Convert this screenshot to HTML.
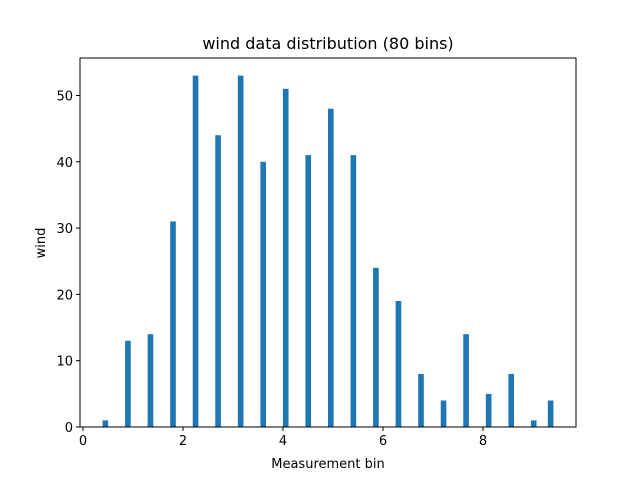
<!DOCTYPE html>
<html><head><meta charset="utf-8"><style>
body{margin:0;background:#fff}
svg text{font-family:"DejaVu Sans","Liberation Sans",sans-serif;fill:#000}
</style></head><body>
<svg id="c" width="640" height="480">
<rect width="640" height="480" fill="#fff"/>
<text x="328" y="49" font-size="16" text-anchor="middle">wind data distribution (80 bins)</text>
<text x="328" y="468" font-size="13" text-anchor="middle">Measurement bin</text>
<text x="45" y="243" font-size="13" text-anchor="middle" transform="rotate(-90 45 243)">wind</text>
<g id="bars"></g><g id="axes"></g>
<rect x="80" y="58" width="496" height="369" fill="none" stroke="#000" stroke-width="1"/>
</svg>
<script>
const binIndex=[0,4,8,12,16,20,24,28,32,36,40,44,48,52,56,60,64,68,72,76,79];
const counts=[1,13,14,31,53,44,53,40,51,41,48,41,24,19,8,4,14,5,8,1,4];
const xTicks=[0,2,4,6,8];
const yTicks=[0,10,20,30,40,50];
const dataMin=0.391, dataMax=9.409, nBins=80;
const L=80,R=576,T=58,B=427;
const rng=dataMax-dataMin, bw=rng/nBins;
const x0=dataMin-0.05*rng, x1=dataMax+0.05*rng;
const yMax=Math.max(...counts)*1.05;
const sx=v=>L+(v-x0)/(x1-x0)*(R-L);
const sy=v=>B-v/yMax*(B-T);
const NS="http://www.w3.org/2000/svg";
const bars=document.getElementById('bars'),axes=document.getElementById('axes');
binIndex.forEach((bi,i)=>{
 const r=document.createElementNS(NS,'rect');
 const xl=sx(dataMin+bi*bw),xr=sx(dataMin+(bi+1)*bw);
 r.setAttribute('x',xl);r.setAttribute('width',xr-xl);
 r.setAttribute('y',sy(counts[i]));r.setAttribute('height',B-sy(counts[i]));
 r.setAttribute('fill','#1f77b4');
 
 
 bars.appendChild(r);
});
xTicks.forEach(t=>{
 const x=sx(t);
 const l=document.createElementNS(NS,'line');
 l.setAttribute('x1',x);l.setAttribute('x2',x);l.setAttribute('y1',B);l.setAttribute('y2',B+4);l.setAttribute('stroke','#000');
 
 
 axes.appendChild(l);
 const tx=document.createElementNS(NS,'text');
 tx.setAttribute('x',x);tx.setAttribute('y',B+18);tx.setAttribute('font-size','13');tx.setAttribute('text-anchor','middle');
 tx.textContent=t;
 
 
 axes.appendChild(tx);
});
yTicks.forEach(t=>{
 const y=sy(t);
 const l=document.createElementNS(NS,'line');
 l.setAttribute('x1',L-4);l.setAttribute('x2',L);l.setAttribute('y1',y);l.setAttribute('y2',y);l.setAttribute('stroke','#000');
 
 
 axes.appendChild(l);
 const tx=document.createElementNS(NS,'text');
 tx.setAttribute('x',L-7);tx.setAttribute('y',y+5);tx.setAttribute('font-size','13');tx.setAttribute('text-anchor','end');
 tx.textContent=t;
 
 
 axes.appendChild(tx);
});
</script>
</body></html>
